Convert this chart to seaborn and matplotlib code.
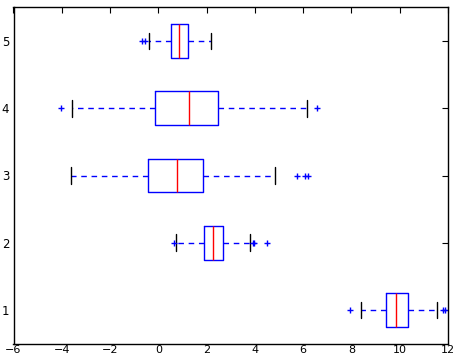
"""
Horizontal box plot, classic matplotlib look, drawn with seaborn.
"""

import numpy as np
import pandas as pd
import seaborn as sns
import matplotlib
matplotlib.use("Agg")
import matplotlib.pyplot as plt

# ── Data (box statistics) ─────────────────────────────────────────────────────
GROUPS      = ["1", "2", "3", "4", "5"]
WHISKER_LO  = [8.38, 0.72, -3.62, -3.56, -0.38]
Q1          = [9.42, 1.88, -0.43, -0.12, 0.54]
MEDIAN      = [9.86, 2.26, 0.79, 1.26, 0.87]
Q3          = [10.35, 2.68, 1.83, 2.46, 1.22]
WHISKER_HI  = [11.54, 3.81, 4.82, 6.16, 2.17]
FLIERS_LO   = [[7.92], [0.64], [], [-4.04], [-0.66, -0.55]]
FLIERS_HI   = [[11.80, 11.86], [3.93, 3.96, 4.52], [5.76, 6.07, 6.22], [6.59], []]

X_TICKS = [-6, -4, -2, 0, 2, 4, 6, 8, 10, 12]

# ── Build a sample per group whose quartiles/whiskers give those stats ────────
# 17 sorted points: index 4 -> Q1, 8 -> median, 12 -> Q3
K = 4
rows = []
for g, lo, q1, med, q3, hi, flo, fhi in zip(GROUPS, WHISKER_LO, Q1, MEDIAN, Q3,
                                           WHISKER_HI, FLIERS_LO, FLIERS_HI):
    low = flo + [lo]
    low = low + [q1] * (K - len(low))
    high = [hi] + fhi
    high = [q3] * (K - len(high)) + high
    vals = low + [q1] + [med] * K + [q3] * K + high
    rows += [(g, v) for v in vals]
df = pd.DataFrame(rows, columns=["group", "value"])

# ── Style ─────────────────────────────────────────────────────────────────────
sns.set_style("white")
plt.rcParams.update({
    "font.family": ["DejaVu Sans"],
    "xtick.direction": "in",
    "ytick.direction": "in",
    "xtick.top": True,
    "ytick.right": True,
    "xtick.major.size": 4,
    "ytick.major.size": 4,
    "xtick.major.pad": 1.0,
    "ytick.major.pad": 3,
    "xtick.labelsize": 8,
    "ytick.labelsize": 8.5,
    "axes.edgecolor": "black",
    "axes.linewidth": 1.0,
})

fig = plt.figure(figsize=(4.57, 3.57), dpi=100)
ax = fig.add_axes([13.5 / 457, 1 - 343.6 / 357, (448 - 13.5) / 457, (343.6 - 7.4) / 357])

sns.boxplot(
    data=df, x="value", y="group", order=GROUPS[::-1], orient="h",
    width=0.5, whis=1.5, fill=False, color="blue", linewidth=1.0,
    boxprops=dict(color="blue"),
    medianprops=dict(color="red"),
    whiskerprops=dict(color="blue", linestyle=(0, (4, 3.4))),
    capprops=dict(color="black"),
    flierprops=dict(marker="+", markeredgecolor="blue", markersize=4.5),
    ax=ax,
)

ax.set_xlim(-6, 12)
ax.set_ylim(4.5, -0.5)
ax.set_xticks(X_TICKS)
ax.set_xlabel("")
ax.set_ylabel("")
ax.grid(False)
for s in ax.spines.values():
    s.set_visible(True)
    s.set_color("black")
ax.tick_params(colors="black")

fig.savefig("out.png", dpi=100)
